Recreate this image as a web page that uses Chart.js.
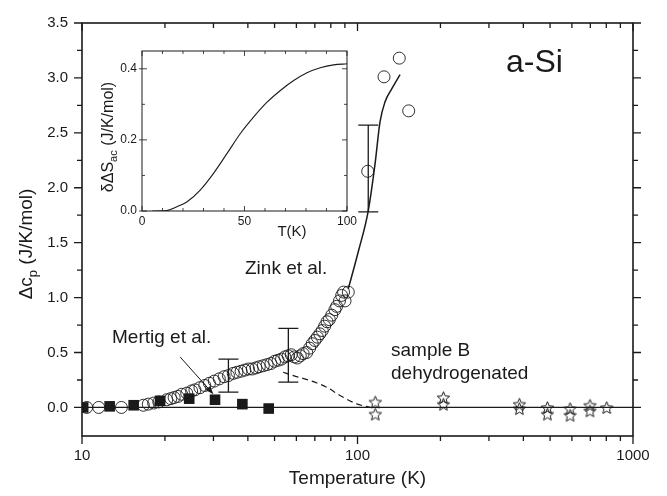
<!DOCTYPE html>
<html>
<head>
<meta charset="utf-8">
<script src="https://cdn.jsdelivr.net/npm/chart.js@4.4.1/dist/chart.umd.min.js"></script>
<style>
  body { margin: 0; background: #fff; }
  #wrap { position: relative; width: 667px; height: 496px; }
  #main { position: absolute; left: 0; top: 0; }
  #inset { position: absolute; left: 90px; top: 36px; }
</style>
</head>
<body>
<div id="wrap">
  <canvas id="main" width="667" height="496"></canvas>
  <canvas id="inset" width="270" height="210"></canvas>
</div>
<script>
// Zink et al. (open circles)
const zinkT = [10.4, 11.5, 13.9, 16.7, 17.4, 18.2, 19.0, 20.3, 21.0, 21.6, 22.3, 23.0, 24.0, 25.0, 25.7,
  26.8, 27.9, 29.0, 30.2, 31.5, 32.8, 34.0, 35.4, 36.5, 37.8, 39.0, 40.2, 41.5, 42.8, 44.0, 45.5, 47.0,
  48.5, 50.0, 51.5, 53.0, 54.5, 56.0, 57.5, 59.0, 60.5, 62.0, 63.5, 65.4, 67.0, 68.5, 70.0, 71.5, 73.0,
  74.5, 76.0, 77.5, 79.0, 80.6, 82.8, 84.0, 86.0, 87.6, 89.0, 90.1, 92.6, 108.9, 124.8, 141.8, 153.4];
const zinkC = [0.00, 0.00, 0.00, 0.02, 0.03, 0.04, 0.05, 0.07, 0.08, 0.09, 0.10, 0.12, 0.13, 0.15, 0.16,
  0.18, 0.20, 0.22, 0.24, 0.26, 0.28, 0.29, 0.31, 0.32, 0.33, 0.34, 0.35, 0.35, 0.36, 0.37, 0.38, 0.39,
  0.40, 0.42, 0.43, 0.44, 0.46, 0.47, 0.48, 0.46, 0.45, 0.47, 0.49, 0.50, 0.54, 0.58, 0.61, 0.64, 0.67,
  0.70, 0.74, 0.78, 0.80, 0.84, 0.89, 0.92, 0.97, 1.02, 1.05, 0.97, 1.05, 2.15, 3.01, 3.18, 2.70];

// solid fit line
const fitT = [92.6, 100.7, 109.4, 115.7, 120.7, 125.8, 133.1, 142.7];
const fitC = [1.08, 1.42, 1.79, 2.21, 2.60, 2.78, 2.90, 3.03];

// dashed line
const dashT = [53.7, 58.5, 67.2, 77.3, 86.4, 99.3, 111];
const dashC = [0.32, 0.29, 0.245, 0.184, 0.109, 0.033, 0.0];

// Mertig et al. (filled squares)
const mertigT = [10.1, 12.6, 15.4, 19.2, 24.5, 30.4, 38.2, 47.6];
const mertigC = [0.00, 0.01, 0.02, 0.06, 0.08, 0.07, 0.03, -0.01];

// sample B dehydrogenated (stars)
const starT = [116, 116, 205, 205, 387, 387, 489, 489, 591, 591, 698, 698, 803];
const starC = [0.05, -0.06, 0.09, 0.03, 0.03, -0.01, 0.00, -0.06, -0.01, -0.07, 0.02, -0.03, 0.00];

// error bars
const errT = [34.0, 56.1, 109.4];
const errLow = [0.14, 0.23, 1.78];
const errHigh = [0.44, 0.72, 2.57];

// arrow Mertig label -> square
const arrowFrom = [22.7, 0.46];
const arrowTo = [30.0, 0.12];

const xTickLabels = [10, 100, 1000];
const yTickLabels = [0, 0.5, 1.0, 1.5, 2.0, 2.5, 3.0, 3.5];

// inset
const insetT = [5, 12, 17, 22, 28.4, 34.9, 41.5, 48, 54.4, 61, 67.5, 74, 80.5, 87, 93.5, 100];
const insetS = [0, 0.001, 0.012, 0.026, 0.059, 0.106, 0.162, 0.218, 0.264, 0.306, 0.339, 0.367, 0.389, 0.403, 0.411, 0.414];
const insetXTicks = [0, 50, 100];
const insetYTicks = [0, 0.2, 0.4];

const FONT = "'Liberation Sans', Arial, sans-serif";
const INK = '#1a1a1a';

const pts = (xs, ys) => xs.map((x, i) => ({ x: x, y: ys[i] }));

function makeStar(size) {
  const c = document.createElement('canvas');
  c.width = c.height = size;
  const g = c.getContext('2d');
  g.strokeStyle = INK;
  g.lineWidth = 1;
  const R = size / 2 - 1, r = R * 0.45, cx = size / 2, cy = size / 2 + 0.7;
  g.beginPath();
  for (let k = 0; k < 10; k++) {
    const a = -Math.PI / 2 + k * Math.PI / 5;
    const rr = k % 2 ? r : R;
    g.lineTo(cx + rr * Math.cos(a), cy + rr * Math.sin(a));
  }
  g.closePath();
  g.stroke();
  return c;
}

const mainDecor = {
  id: 'mainDecor',
  afterDraw(chart) {
    const ctx = chart.ctx;
    const a = chart.chartArea;
    const xs = chart.scales.x, ys = chart.scales.y;
    ctx.save();
    ctx.strokeStyle = INK;
    ctx.fillStyle = INK;

    // frame
    ctx.lineWidth = 1.6;
    ctx.strokeRect(a.left, a.top, a.right - a.left, a.bottom - a.top);

    // y ticks (left + right, outward)
    ctx.lineWidth = 1.3;
    for (let v = 0; v <= 3.5001; v += 0.25) {
      const y = ys.getPixelForValue(v);
      const len = Math.abs(v / 0.5 - Math.round(v / 0.5)) < 0.01 ? 8 : 5;
      ctx.beginPath();
      ctx.moveTo(a.left - len, y); ctx.lineTo(a.left, y);
      ctx.moveTo(a.right, y); ctx.lineTo(a.right + len, y);
      ctx.stroke();
    }
    // x ticks (bottom outward, top inward)
    for (let dec = 10; dec <= 1000; dec *= 10) {
      for (let m = 1; m <= 9; m++) {
        const v = dec * m;
        if (v > 1000) break;
        const x = xs.getPixelForValue(v);
        const len = m === 1 ? 8 : 5;
        ctx.beginPath();
        ctx.moveTo(x, a.bottom); ctx.lineTo(x, a.bottom + len);
        ctx.moveTo(x, a.top); ctx.lineTo(x, a.top + len);
        ctx.stroke();
      }
    }

    // error bars
    ctx.lineWidth = 1.3;
    errT.forEach((t, i) => {
      const x = xs.getPixelForValue(t);
      const y1 = ys.getPixelForValue(errLow[i]);
      const y2 = ys.getPixelForValue(errHigh[i]);
      ctx.beginPath();
      ctx.moveTo(x, y1); ctx.lineTo(x, y2);
      ctx.moveTo(x - 10, y1); ctx.lineTo(x + 10, y1);
      ctx.moveTo(x - 10, y2); ctx.lineTo(x + 10, y2);
      ctx.stroke();
    });

    // arrow
    const ax1 = xs.getPixelForValue(arrowFrom[0]), ay1 = ys.getPixelForValue(arrowFrom[1]);
    const ax2 = xs.getPixelForValue(arrowTo[0]), ay2 = ys.getPixelForValue(arrowTo[1]);
    const ang = Math.atan2(ay2 - ay1, ax2 - ax1);
    ctx.lineWidth = 1;
    ctx.beginPath();
    ctx.moveTo(ax1, ay1);
    ctx.lineTo(ax2 - 6 * Math.cos(ang), ay2 - 6 * Math.sin(ang));
    ctx.stroke();
    ctx.beginPath();
    ctx.moveTo(ax2, ay2);
    ctx.lineTo(ax2 - 9 * Math.cos(ang - 0.35), ay2 - 9 * Math.sin(ang - 0.35));
    ctx.lineTo(ax2 - 9 * Math.cos(ang + 0.35), ay2 - 9 * Math.sin(ang + 0.35));
    ctx.closePath();
    ctx.fill();

    // labels
    ctx.textAlign = 'left';
    ctx.textBaseline = 'alphabetic';
    ctx.font = '19px ' + FONT;
    ctx.fillText('Mertig et al.', 112, 343);
    ctx.fillText('Zink et al.', 245, 274);
    ctx.fillText('sample B', 391, 356);
    ctx.fillText('dehydrogenated', 391, 379);
    ctx.font = '32px ' + FONT;
    ctx.fillText('a-Si', 506, 72);

    // x title
    ctx.font = '19px ' + FONT;
    ctx.textAlign = 'center';
    ctx.fillText('Temperature (K)', (a.left + a.right) / 2, 484);

    // y title with subscript
    ctx.save();
    ctx.translate(32, 244);
    ctx.rotate(-Math.PI / 2);
    ctx.textAlign = 'left';
    const p1 = '\u0394c', p2 = 'p', p3 = ' (J/K/mol)';
    ctx.font = '19px ' + FONT;
    const w1 = ctx.measureText(p1).width, w3 = ctx.measureText(p3).width;
    ctx.font = '13px ' + FONT;
    const w2 = ctx.measureText(p2).width;
    let x0 = -(w1 + w2 + w3) / 2;
    ctx.font = '19px ' + FONT;
    ctx.fillText(p1, x0, 0);
    ctx.font = '13px ' + FONT;
    ctx.fillText(p2, x0 + w1, 5);
    ctx.font = '19px ' + FONT;
    ctx.fillText(p3, x0 + w1 + w2, 0);
    ctx.restore();

    ctx.restore();
  }
};

new Chart(document.getElementById('main'), {
  type: 'scatter',
  data: {
    datasets: [
      { data: [{ x: 10, y: 0 }, { x: 1000, y: 0 }], showLine: true, borderColor: INK, borderWidth: 1.2, pointRadius: 0 },
      { data: pts(dashT, dashC), showLine: true, borderColor: INK, borderWidth: 1.2, borderDash: [6, 4], pointRadius: 0, cubicInterpolationMode: 'monotone' },
      { data: pts(fitT, fitC), showLine: true, borderColor: INK, borderWidth: 1.5, pointRadius: 0, cubicInterpolationMode: 'monotone' },
      { data: pts(zinkT, zinkC), pointStyle: 'circle', pointRadius: 6, borderWidth: 0.9, borderColor: INK, backgroundColor: 'rgba(0,0,0,0)' },
      { data: pts(mertigT, mertigC), pointStyle: 'rect', pointRadius: 7.5, borderWidth: 0, backgroundColor: INK, borderColor: INK },
      { data: pts(starT, starC), pointStyle: makeStar(15), pointRadius: 7.5 }
    ]
  },
  options: {
    responsive: false,
    animation: false,
    layout: { padding: { top: 21, right: 34, left: 0, bottom: 0 } },
    plugins: { legend: { display: false }, tooltip: { enabled: false } },
    scales: {
      x: {
        type: 'logarithmic', min: 10, max: 1000,
        grid: { display: false, drawTicks: false }, border: { display: false },
        afterBuildTicks: s => { s.ticks = xTickLabels.map(v => ({ value: v })); },
        ticks: { callback: v => String(v), font: { size: 15, family: FONT }, color: INK, padding: 11, maxRotation: 0, autoSkip: false },
        afterFit: s => { s.height = 60; }
      },
      y: {
        min: -0.26, max: 3.5,
        grid: { display: false, drawTicks: false }, border: { display: false },
        afterBuildTicks: s => { s.ticks = yTickLabels.map(v => ({ value: v })); },
        ticks: { callback: v => Number(v).toFixed(1), font: { size: 15, family: FONT }, color: INK, padding: 14 },
        afterFit: s => { s.width = 82; }
      }
    }
  },
  plugins: [mainDecor]
});

const insetDecor = {
  id: 'insetDecor',
  afterDraw(chart) {
    const ctx = chart.ctx;
    const a = chart.chartArea;
    const xs = chart.scales.x, ys = chart.scales.y;
    ctx.save();
    ctx.strokeStyle = INK;
    ctx.fillStyle = INK;
    ctx.lineWidth = 1;
    ctx.strokeRect(a.left, a.top, a.right - a.left, a.bottom - a.top);
    ctx.lineWidth = 0.8;
    for (let v = 0; v <= 100; v += 10) {
      const x = xs.getPixelForValue(v);
      const len = v % 50 === 0 ? 5 : 3;
      ctx.beginPath();
      ctx.moveTo(x, a.bottom); ctx.lineTo(x, a.bottom - len);
      ctx.moveTo(x, a.top); ctx.lineTo(x, a.top + len);
      ctx.stroke();
    }
    for (let k = 0; k <= 4; k++) {
      const y = ys.getPixelForValue(k * 0.1);
      const len = k % 2 === 0 ? 5 : 3;
      ctx.beginPath();
      ctx.moveTo(a.left - (k % 2 === 0 ? 3 : 0), y); ctx.lineTo(a.left + len, y);
      ctx.moveTo(a.right, y); ctx.lineTo(a.right - len, y);
      ctx.stroke();
    }
    ctx.font = '15px ' + FONT;
    ctx.textAlign = 'center';
    ctx.textBaseline = 'alphabetic';
    ctx.fillText('T(K)', 202, 200);

    // y title
    ctx.save();
    ctx.translate(23, 101);
    ctx.rotate(-Math.PI / 2);
    ctx.textAlign = 'left';
    const p1 = '\u03b4\u0394S', p2 = 'ac', p3 = ' (J/K/mol)';
    ctx.font = '16px ' + FONT;
    const w1 = ctx.measureText(p1).width, w3 = ctx.measureText(p3).width;
    ctx.font = '11px ' + FONT;
    const w2 = ctx.measureText(p2).width;
    const x0 = -(w1 + w2 + w3) / 2;
    ctx.font = '16px ' + FONT;
    ctx.fillText(p1, x0, 0);
    ctx.font = '11px ' + FONT;
    ctx.fillText(p2, x0 + w1, 4);
    ctx.font = '16px ' + FONT;
    ctx.fillText(p3, x0 + w1 + w2, 0);
    ctx.restore();
    ctx.restore();
  }
};

new Chart(document.getElementById('inset'), {
  type: 'scatter',
  data: {
    datasets: [
      { data: pts(insetT, insetS), showLine: true, borderColor: INK, borderWidth: 1.1, pointRadius: 0, cubicInterpolationMode: 'monotone' }
    ]
  },
  options: {
    responsive: false,
    animation: false,
    layout: { padding: { top: 15, right: 13, left: 0, bottom: 0 } },
    plugins: { legend: { display: false }, tooltip: { enabled: false } },
    scales: {
      x: {
        min: 0, max: 100,
        grid: { display: false, drawTicks: false }, border: { display: false },
        afterBuildTicks: s => { s.ticks = insetXTicks.map(v => ({ value: v })); },
        ticks: { callback: v => String(v), font: { size: 12, family: FONT }, color: INK, padding: 3, maxRotation: 0, autoSkip: false },
        afterFit: s => { s.height = 35; }
      },
      y: {
        min: 0, max: 0.45,
        grid: { display: false, drawTicks: false }, border: { display: false },
        afterBuildTicks: s => { s.ticks = insetYTicks.map(v => ({ value: v })); },
        ticks: { callback: v => Number(v).toFixed(1), font: { size: 12, family: FONT }, color: INK, padding: 5 },
        afterFit: s => { s.width = 52; }
      }
    }
  },
  plugins: [insetDecor]
});
</script>
</body>
</html>
